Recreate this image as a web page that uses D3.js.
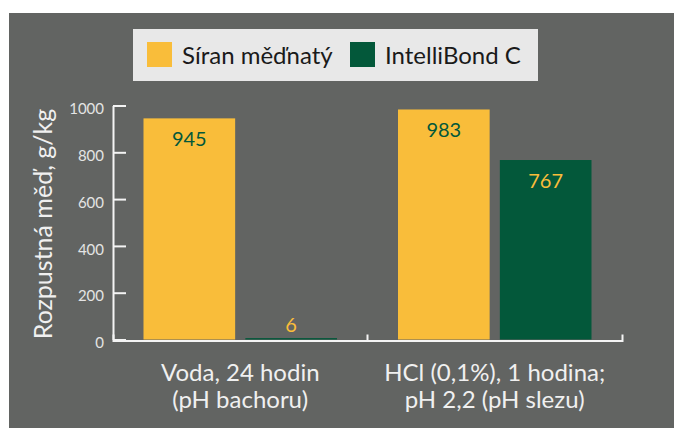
<!DOCTYPE html>
<html>
<head>
<meta charset="utf-8">
<script src="https://cdn.jsdelivr.net/npm/d3@7"></script>
<style>
  body { margin: 0; background: #fff; }
  svg { display: block; font-family: Lato, "Open Sans", sans-serif; }
</style>
</head>
<body>
<div id="chart"></div>
<script>
// Data
const categories = ['Voda, 24 hodin|(pH bachoru)', 'HCl (0,1%), 1 hodina;|pH 2,2 (pH slezu)'];
const seriesNames = ['Síran měďnatý', 'IntelliBond C'];
const siranValues = [945, 983];
const intelliValues = [6, 767];
const yTicks = [0, 200, 400, 600, 800, 1000];
const yTitle = 'Rozpustná měď, g/kg';

const colors = ['#f9bd3a', '#03583a'];
const width = 674, height = 428;

const rows = categories.map((c, i) => ({
  category: c,
  values: [siranValues[i], intelliValues[i]]
}));

const svg = d3.select('#chart').append('svg')
  .attr('width', width)
  .attr('height', height);

// Grey panel
svg.append('rect')
  .attr('x', 9)
  .attr('y', 13)
  .attr('width', width - 9)
  .attr('height', height - 13)
  .attr('fill', '#626462');

// Scales
const x0 = d3.scaleBand()
  .domain(categories)
  .range([113, 622])
  .padding(0);

const x1 = d3.scaleBand()
  .domain(seriesNames)
  .range([30.5, x0.bandwidth() - 30.5])
  .paddingInner(0.1);

const y = d3.scaleLinear()
  .domain([0, 1000])
  .range([339.5, 105.5]);

// Y axis
const yAxis = d3.axisLeft(y)
  .tickValues(yTicks)
  .tickFormat(d3.format('d'))
  .tickSizeInner(-13)
  .tickSizeOuter(0)
  .tickPadding(9);

const yAxisG = svg.append('g')
  .attr('transform', 'translate(113,0)')
  .call(yAxis);

yAxisG.select('.domain').attr('stroke', '#f4f4f4').attr('stroke-width', 2);
yAxisG.selectAll('.tick line').attr('stroke', '#f4f4f4').attr('stroke-width', 2);
yAxisG.selectAll('.tick text')
  .attr('fill', '#e4e4e4')
  .attr('font-size', 15)
  .attr('font-family', 'Lato')
  .attr('dy', '0.55em');

// X axis
const xAxis = d3.axisBottom(x0)
  .tickSizeInner(0)
  .tickSizeOuter(-6)
  .tickFormat('');

const xAxisG = svg.append('g')
  .attr('transform', `translate(0,${y(0) + 1})`)
  .call(xAxis);

xAxisG.select('.domain').attr('stroke', '#f4f4f4').attr('stroke-width', 2).attr('fill', 'none');

// Boundary ticks between groups
xAxisG.selectAll('.sep')
  .data(categories.slice(1))
  .enter()
  .append('line')
  .attr('class', 'sep')
  .attr('x1', d => x0(d))
  .attr('x2', d => x0(d))
  .attr('y1', 0)
  .attr('y2', -6)
  .attr('stroke', '#f4f4f4')
  .attr('stroke-width', 2);

// Category labels
const catLabels = svg.append('g')
  .selectAll('text')
  .data(categories)
  .enter()
  .append('text')
  .attr('x', d => x0(d) + x0.bandwidth() / 2)
  .attr('y', 381)
  .attr('text-anchor', 'middle')
  .attr('fill', '#f0f0f0')
  .attr('font-size', 24);

catLabels.selectAll('tspan')
  .data(d => d.split('|'))
  .enter()
  .append('tspan')
  .attr('x', function() { return d3.select(this.parentNode).attr('x'); })
  .attr('dy', (d, i) => i === 0 ? 0 : 27)
  .text(d => d);

// Bars
const groups = svg.append('g')
  .selectAll('g')
  .data(rows)
  .enter()
  .append('g')
  .attr('transform', d => `translate(${x0(d.category)},0)`);

groups.selectAll('rect')
  .data(d => d.values.map((v, i) => ({ key: seriesNames[i], value: v, idx: i })))
  .enter()
  .append('rect')
  .attr('x', d => x1(d.key))
  .attr('y', d => y(d.value))
  .attr('width', x1.bandwidth())
  .attr('height', d => y(0) - y(d.value))
  .attr('fill', d => colors[d.idx]);

// Value labels (inside tall bars, above short ones)
groups.selectAll('text')
  .data(d => d.values.map((v, i) => ({ key: seriesNames[i], value: v, idx: i })))
  .enter()
  .append('text')
  .attr('x', d => x1(d.key) + x1.bandwidth() / 2)
  .attr('y', d => (y(0) - y(d.value) > 40) ? y(d.value) + 28 : y(d.value) - 6)
  .attr('text-anchor', 'middle')
  .attr('font-size', 20)
  .attr('fill', d => colors[1 - d.idx])
  .text(d => d.value);

// Y title
svg.append('text')
  .attr('transform', 'translate(52,224) rotate(-90)')
  .attr('text-anchor', 'middle')
  .attr('fill', '#f0f0f0')
  .attr('font-size', 25)
  .text(yTitle);

// Legend
const legend = svg.append('g');

legend.append('rect')
  .attr('x', 133)
  .attr('y', 29)
  .attr('width', 405)
  .attr('height', 52)
  .attr('fill', '#e8e8e8');

const legendX = [147, 350];

const items = legend.selectAll('.item')
  .data(seriesNames)
  .enter()
  .append('g')
  .attr('class', 'item')
  .attr('transform', (d, i) => `translate(${legendX[i]},42)`);

items.append('rect')
  .attr('width', 25)
  .attr('height', 25)
  .attr('fill', (d, i) => colors[i]);

items.append('text')
  .attr('x', 35)
  .attr('y', 22)
  .attr('font-size', 24)
  .attr('fill', '#1a1a1a')
  .text(d => d);
</script>
</body>
</html>
